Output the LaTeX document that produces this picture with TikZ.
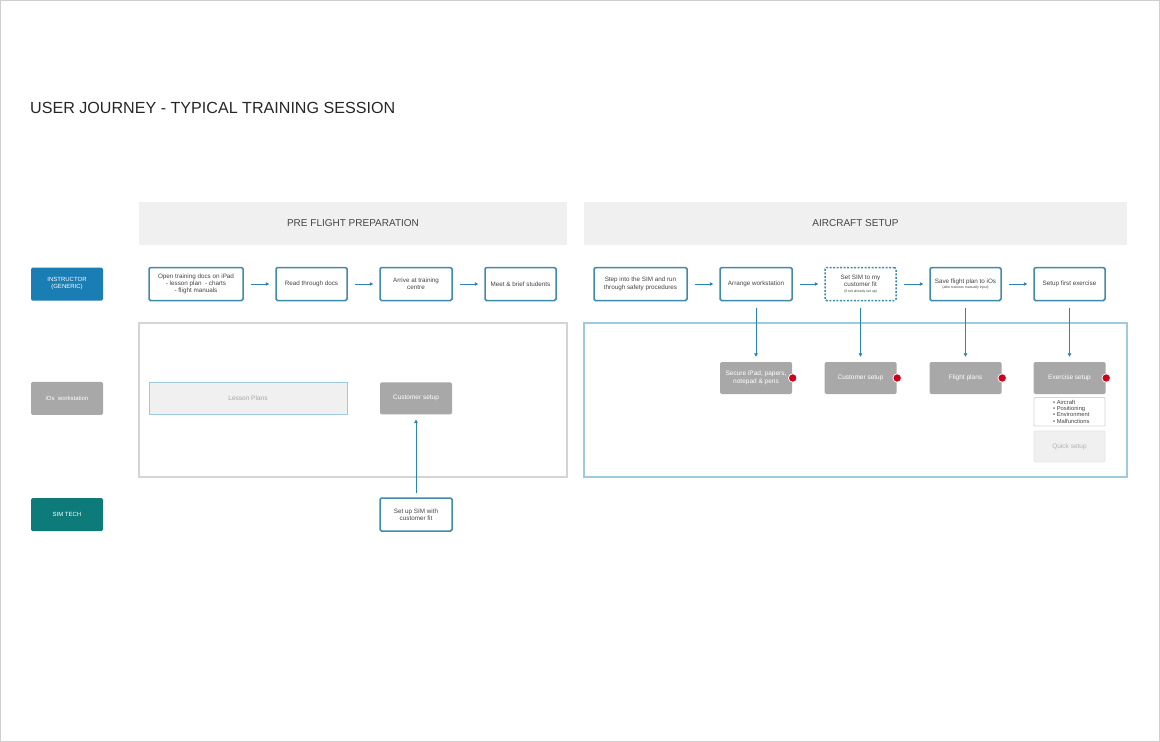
\documentclass[tikz,border=0pt]{standalone}
\usepackage{fontspec}
\setmainfont{Liberation Sans}
\usetikzlibrary{arrows.meta}
\definecolor{boxblue}{HTML}{3F8BAA}
\definecolor{arrowblue}{HTML}{2B84B2}
\definecolor{instrblue}{HTML}{1A7DB4}
\definecolor{iosgray}{HTML}{A8A8A8}
\definecolor{simteal}{HTML}{0E7B7B}
\definecolor{headfill}{HTML}{F0F0F0}
\definecolor{textgray}{HTML}{444444}
\definecolor{lanegray}{HTML}{D4D4D4}
\definecolor{laneblue}{HTML}{9CCBE0}
\definecolor{dotred}{HTML}{CC0018}
\definecolor{framegray}{HTML}{CFCFCF}
\tikzset{
  flowbox/.style={draw=boxblue, line width=1.5pt, fill=white, rounded corners=1.5pt,
    minimum height=33pt, inner sep=1pt, align=center, text=textgray,
    font=\fontsize{6.3}{7.3}\selectfont},
  graybox/.style={fill=iosgray, rounded corners=1.5pt, minimum height=32pt, minimum width=72pt,
    inner sep=1pt, align=center, text=white, font=\fontsize{6.5}{7.5}\selectfont},
  lanelabel/.style={rounded corners=1.5pt, minimum width=72pt, minimum height=33pt,
    inner sep=1pt, align=center, text=white, font=\fontsize{6}{7}\selectfont},
  header/.style={fill=headfill, minimum height=43pt, inner sep=0pt, text=textgray,
    font=\fontsize{10}{12}\selectfont},
  lanebox/.style={line width=1.2pt, inner sep=0pt, fill=none},
  flowarrow/.style={draw=arrowblue, line width=0.8pt, -{Triangle[length=3.5pt,width=3.5pt]}},
  reddot/.style={circle, fill=dotred, draw=white, line width=0.8pt, minimum size=8.5pt, inner sep=0pt}
}
\begin{document}
\begin{tikzpicture}[x=1pt,y=-1pt]
\useasboundingbox (0,0) rectangle (1160,742);
\draw[framegray, line width=1pt] (0.5,0.5) rectangle (1159.5,741.5);

% title
\node[anchor=west, inner sep=0pt, text=black!85, font=\fontsize{16.1}{19}\selectfont] (title) at (30,108) {USER JOURNEY - TYPICAL TRAINING SESSION};

% headers
\node[header, minimum width=428pt] (hpre) at (353,223.5) {PRE FLIGHT PREPARATION};
\node[header, minimum width=543pt] (hair) at (855.5,223.5) {AIRCRAFT SETUP};

% lane boxes
\node[lanebox, draw=lanegray, minimum width=428pt, minimum height=154pt] (lanepre) at (353,400) {};
\node[lanebox, draw=laneblue, minimum width=543pt, minimum height=154pt] (laneair) at (855.5,400) {};

% lane labels
\node[lanelabel, fill=instrblue] (linstr) at (67,284) {INSTRUCTOR\\(GENERIC)};
\node[lanelabel, fill=iosgray] (lios) at (67,398.3) {iOs\ \ workstation};
\node[lanelabel, fill=simteal] (lsim) at (67,514.5) {SIM TECH};

% instructor row
\node[flowbox, minimum width=94pt] (b1) at (196,284) {Open training docs on iPad\\- lesson plan\ \ - charts\\- flight manuals};
\node[flowbox, minimum width=71pt] (b2) at (311.5,284) {Read through docs};
\node[flowbox, minimum width=72pt] (b3) at (416,284) {Arrive at training\\centre};
\node[flowbox, minimum width=71pt] (b4) at (520.5,284) {Meet \& brief students};
\node[flowbox, minimum width=93pt] (b5) at (640.5,284) {Step into the SIM and run\\through safety procedures};
\node[flowbox, minimum width=72pt] (b6) at (756,284) {Arrange workstation};
\node[flowbox, minimum width=71pt, dashed, dash pattern=on 2pt off 1.5pt] (b7) at (860.5,284) {Set SIM to my\\customer fit\\[-1pt]{\fontsize{3.5}{4}\selectfont (if not already set up)}};
\node[flowbox, minimum width=71pt] (b8) at (965.5,284) {Save flight plan to iOs\\[-1.5pt]{\fontsize{3.5}{4}\selectfont (after trainees manually input)}};
\node[flowbox, minimum width=71pt] (b9) at (1069.5,284) {Setup first exercise};

\foreach \a/\b in {b1/b2,b2/b3,b3/b4,b5/b6,b6/b7,b7/b8,b8/b9}
  \draw[flowarrow, shorten <=7pt, shorten >=6pt] (\a.east) -- (\b.west);

% iOs row (left)
\node[fill=headfill, draw=laneblue, line width=0.8pt, minimum width=198pt, minimum height=32.6pt,
  text=black!35, font=\fontsize{6.5}{7.5}\selectfont] (lesson) at (248,398.3) {Lesson Plans};
\node[graybox] (cust1) at (416,398.3) {Customer setup};

% SIM tech row
\node[flowbox, minimum width=72pt] (setsim) at (416,514.5) {Set up SIM with\\customer fit};
\draw[flowarrow, shorten <=4pt, shorten >=5pt] (setsim.north) -- (cust1.south);

% iOs row (right)
\node[graybox] (g1) at (756,378) {Secure iPad, papers,\\notepad \& pens};
\node[graybox] (g2) at (860.5,378) {Customer setup};
\node[graybox] (g3) at (965.5,378) {Flight plans};
\node[graybox] (g4) at (1069.5,378) {Exercise setup};
\foreach \g in {g1,g2,g3,g4}
  \node[reddot] (d\g) at ([xshift=0.5pt]\g.east) {};
\foreach \a/\b in {b6/g1,b7/g2,b8/g3,b9/g4}
  \draw[flowarrow, shorten <=7pt, shorten >=5pt] (\a.south) -- (\b.north);

\node[draw=lanegray, line width=0.8pt, fill=white, rounded corners=1pt, minimum width=71pt, minimum height=28.5pt,
  inner sep=1pt] (bullets) at (1069.5,411.8) {};
\node[align=left, inner sep=0pt, text=textgray, font=\fontsize{5.8}{6.1}\selectfont, anchor=west] (btext) at (1053,411.8)
  {• Aircraft\\• Positioning\\• Environment\\• Malfunctions};
\node[draw=lanegray!60, line width=0.8pt, fill=headfill, rounded corners=1pt, minimum width=71pt, minimum height=31pt,
  text=black!30, font=\fontsize{6.5}{7.5}\selectfont] (quick) at (1069.5,446.4) {Quick setup};
\end{tikzpicture}
\end{document}
